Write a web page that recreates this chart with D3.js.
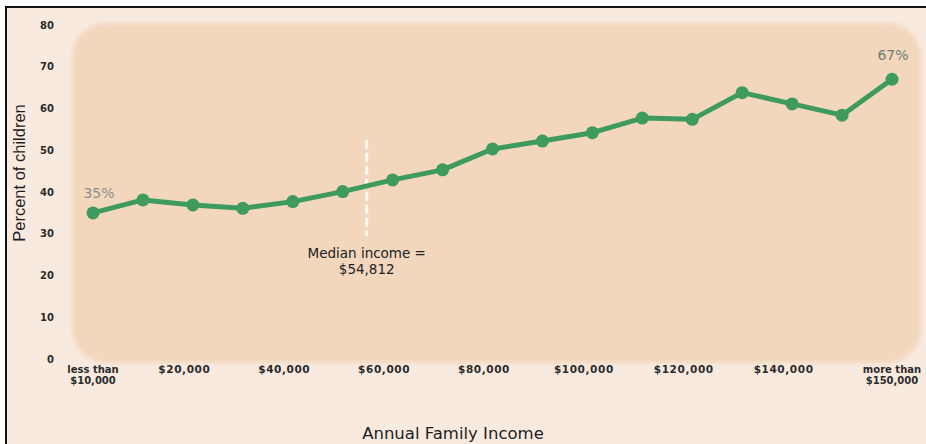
<!DOCTYPE html>
<html>
<head>
<meta charset="utf-8">
<script src="https://cdn.jsdelivr.net/npm/d3@7/dist/d3.min.js"></script>
<style>
  html, body { margin: 0; padding: 0; background: #ffffff; }
  svg { display: block; }
</style>
</head>
<body>
<script>
// Share of children by annual family income bracket (in $ thousands)
const incomes = [0, 10, 20, 30, 40, 50, 60, 70, 80, 90, 100, 110, 120, 130, 140, 150, 160];
const percents = [35, 38.1, 36.9, 36.1, 37.7, 40.1, 42.9, 45.3, 50.3, 52.2, 54.2, 57.7, 57.4, 63.8, 61.1, 58.4, 67];
const yTicks = [0, 10, 20, 30, 40, 50, 60, 70, 80];
const xTickValues = [20, 40, 60, 80, 100, 120, 140];
const xTickLabels = ["$20,000", "$40,000", "$60,000", "$80,000", "$100,000", "$120,000", "$140,000"];
const firstLabel = ["less than", "$10,000"];
const lastLabel = ["more than", "$150,000"];
const medianIncome = 54.812;
const medianLines = ["Median income =", "$54,812"];

const W = 926, H = 444;
const svg = d3.select("body").append("svg").attr("width", W).attr("height", H);

const x = d3.scaleLinear().domain([0, 160]).range([93, 892]);
const y = d3.scaleLinear().domain([0, 80]).range([359, 25]);

// page background and frame
svg.append("rect").attr("x", 6).attr("y", 7).attr("width", W).attr("height", H)
  .attr("fill", "#f9eae0").attr("stroke", "#111").attr("stroke-width", 2);

// soft rounded plot panel
const defs = svg.append("defs");
defs.append("filter").attr("id", "soft").attr("x", "-5%").attr("y", "-5%").attr("width", "110%").attr("height", "110%")
  .append("feGaussianBlur").attr("stdDeviation", 2.5);
svg.append("rect")
  .attr("x", 72).attr("y", 23).attr("width", 849).attr("height", 340)
  .attr("rx", 34).attr("ry", 34)
  .attr("fill", "#f2d7bd").attr("filter", "url(#soft)");

const font = "'Liberation Sans', Arial, sans-serif";
const tickFont = "'DejaVu Sans', sans-serif";

// y axis tick labels
const yAxis = d3.axisLeft(y).tickValues(yTicks).tickSize(0).tickPadding(0);
const gy = svg.append("g").attr("transform", "translate(54,0)").call(yAxis);
gy.select(".domain").remove();
gy.selectAll("text")
  .attr("font-family", tickFont).attr("font-size", 10).attr("font-weight", "bold")
  .attr("fill", "#2b2b2b");

// x axis tick labels
const xAxis = d3.axisBottom(x).tickValues(xTickValues)
  .tickFormat((d, i) => xTickLabels[i]).tickSize(0).tickPadding(0);
const gx = svg.append("g").attr("transform", "translate(-9,366)").call(xAxis);
gx.select(".domain").remove();
gx.selectAll("text")
  .attr("font-family", tickFont).attr("font-size", 10.5).attr("font-weight", "bold")
  .attr("fill", "#2b2b2b").attr("letter-spacing", 0.6);

// end-of-range bracket labels
function endLabel(val, lines) {
  const t = svg.append("text")
    .attr("x", x(val)).attr("y", 373)
    .attr("text-anchor", "middle")
    .attr("font-family", tickFont).attr("font-size", 10).attr("font-weight", "bold")
    .attr("fill", "#2b2b2b");
  lines.forEach((s, i) => t.append("tspan").attr("x", x(val)).attr("dy", i ? 11 : 0).text(s));
}
endLabel(incomes[0], firstLabel);
endLabel(incomes[incomes.length - 1], lastLabel);

// axis titles
svg.append("text")
  .attr("x", 453).attr("y", 439).attr("text-anchor", "middle")
  .attr("font-family", "'DejaVu Sans', sans-serif").attr("font-size", 16.5)
  .attr("fill", "#1e1e1e").text("Annual Family Income");
svg.append("text")
  .attr("transform", "translate(25,173) rotate(-90)").attr("text-anchor", "middle")
  .attr("font-family", font).attr("font-size", 16.5)
  .attr("fill", "#1e1e1e").text("Percent of children");

// median income marker
svg.append("line")
  .attr("x1", x(medianIncome)).attr("x2", x(medianIncome))
  .attr("y1", y(52.5)).attr("y2", y(29.5))
  .attr("stroke", "#fffaf0").attr("stroke-width", 3)
  .attr("stroke-dasharray", "9,4");
const mt = svg.append("text")
  .attr("text-anchor", "middle")
  .attr("font-family", "'DejaVu Sans', sans-serif").attr("font-size", 13.5)
  .attr("fill", "#222");
medianLines.forEach((s, i) =>
  mt.append("tspan").attr("x", x(medianIncome)).attr("y", 258 + i * 16).text(s));

// data line and markers
const line = d3.line().x((d, i) => x(incomes[i])).y(d => y(d));
svg.append("path").datum(percents)
  .attr("d", line).attr("fill", "none")
  .attr("stroke", "#3e9a5d").attr("stroke-width", 5).attr("stroke-linejoin", "round");
svg.selectAll("circle.pt").data(percents).join("circle")
  .attr("class", "pt")
  .attr("cx", (d, i) => x(incomes[i])).attr("cy", d => y(d))
  .attr("r", 6.5).attr("fill", "#3e9a5d");

// value labels at both ends
const last = percents.length - 1;
svg.append("text")
  .attr("x", x(incomes[0]) + 6).attr("y", y(percents[0]) - 15)
  .attr("text-anchor", "middle").attr("font-family", "'DejaVu Sans', sans-serif").attr("font-size", 14)
  .attr("fill", "#8e8e8e").text(percents[0] + "%");
svg.append("text")
  .attr("x", x(incomes[last]) + 1).attr("y", y(percents[last]) - 19)
  .attr("text-anchor", "middle").attr("font-family", "'DejaVu Sans', sans-serif").attr("font-size", 14)
  .attr("fill", "#6f7a78").text(percents[last] + "%");
</script>
</body>
</html>
